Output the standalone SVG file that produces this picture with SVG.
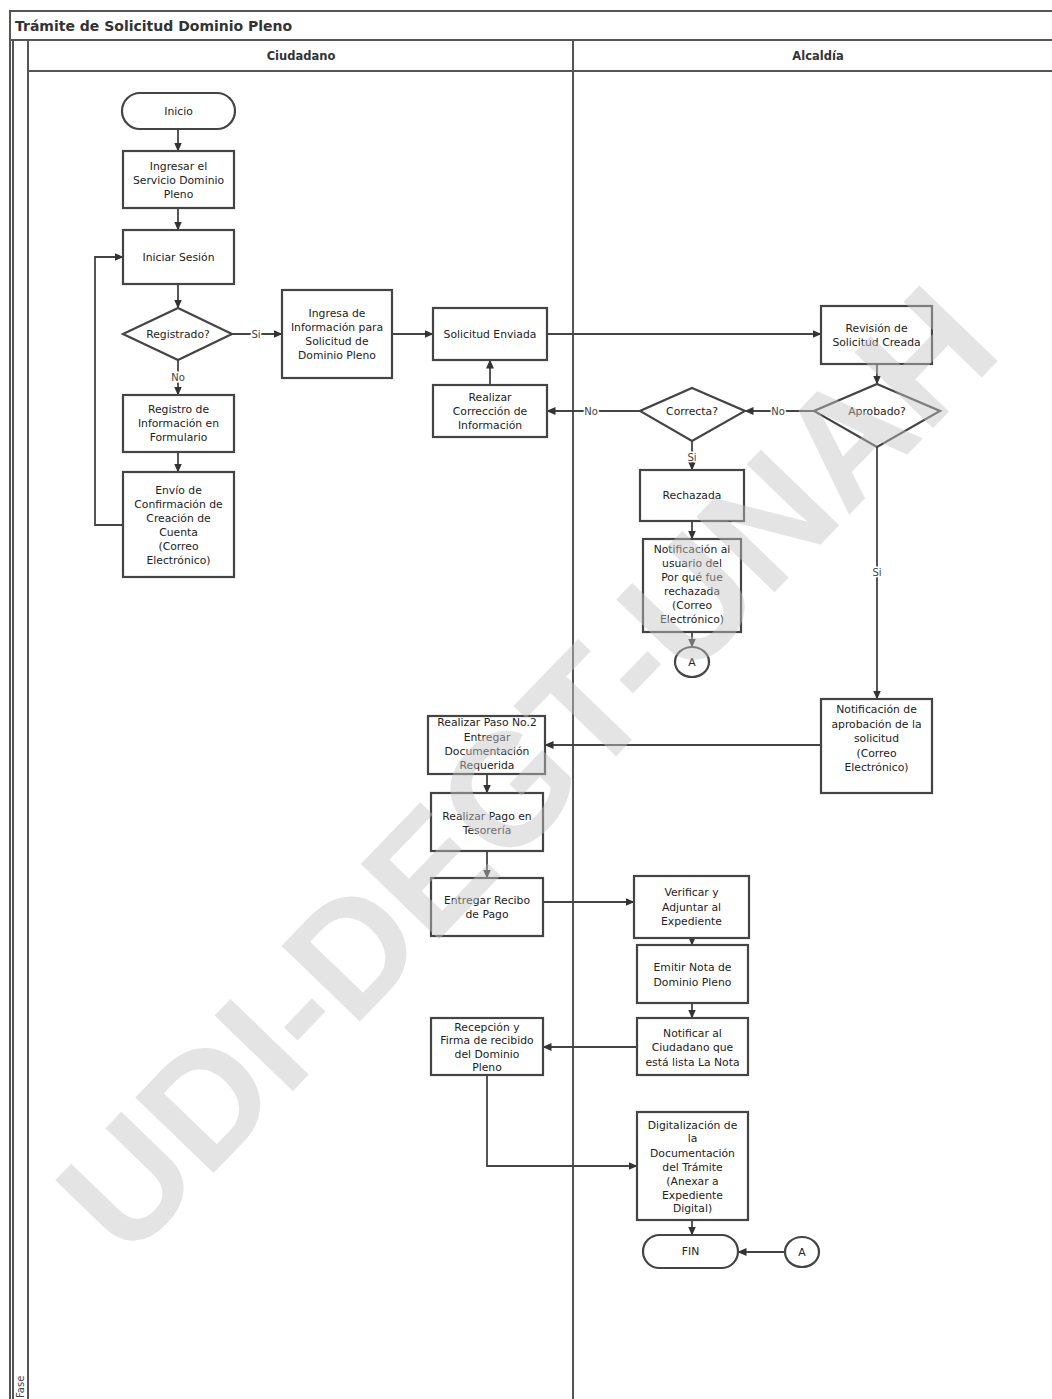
<svg xmlns="http://www.w3.org/2000/svg" width="1052" height="1399" viewBox="0 0 1052 1399">
<style>
.frame{fill:none;stroke:#555;stroke-width:2}
.box{fill:#fff;stroke:#444;stroke-width:2.2}
.ln{fill:none;stroke:#444;stroke-width:1.8}
.t{font-family:"DejaVu Sans","Liberation Sans",sans-serif;font-size:10.8px;fill:#222;text-anchor:middle}
.lb{font-family:"DejaVu Sans","Liberation Sans",sans-serif;font-size:10px;fill:#444;text-anchor:middle;stroke:#fff;stroke-width:3px;paint-order:stroke}
.hd{font-family:"DejaVu Sans","Liberation Sans",sans-serif;font-size:11.5px;font-weight:bold;fill:#333;text-anchor:middle}
</style>
<defs>
<marker id="ah" markerWidth="9" markerHeight="8" refX="8.5" refY="4" orient="auto" markerUnits="userSpaceOnUse">
<path d="M0,0 L9,4 L0,8 Z" fill="#333"/>
</marker>
</defs>
<rect width="1052" height="1399" fill="#fff"/>
<g id="pool">
<rect class="frame" x="10" y="11" width="1060" height="1400"/>
<line class="frame" x1="10" y1="40" x2="1052" y2="40"/>
<line class="frame" x1="13" y1="40" x2="13" y2="1399" stroke-width="1"/>
<line class="frame" x1="28" y1="40" x2="28" y2="1399"/>
<line class="frame" x1="28" y1="71" x2="1052" y2="71"/>
<line class="frame" x1="573" y1="40" x2="573" y2="1399"/>
<text x="15" y="31" font-family="DejaVu Sans, Liberation Sans, sans-serif" font-size="14px" font-weight="bold" fill="#333">Trámite de Solicitud Dominio Pleno</text>
<text class="hd" x="301" y="60">Ciudadano</text>
<text class="hd" x="818" y="60">Alcaldía</text>
<text transform="translate(24,1398) rotate(-90)" font-family="DejaVu Sans, sans-serif" font-size="10px" fill="#444">Fase</text>
</g>
<g id="connectors">
<path class="ln" d="M178,129 V151" marker-end="url(#ah)"/>
<path class="ln" d="M178,208 V230" marker-end="url(#ah)"/>
<path class="ln" d="M178,284 V308" marker-end="url(#ah)"/>
<path class="ln" d="M178,360 V395" marker-end="url(#ah)"/>
<path class="ln" d="M178,452 V472" marker-end="url(#ah)"/>
<path class="ln" d="M123,525 H95 V257 H123" marker-end="url(#ah)"/>
<path class="ln" d="M232,334 H282" marker-end="url(#ah)"/>
<path class="ln" d="M392,334 H433" marker-end="url(#ah)"/>
<path class="ln" d="M490,385 V360" marker-end="url(#ah)"/>
<path class="ln" d="M547,334 H821" marker-end="url(#ah)"/>
<path class="ln" d="M877,364 V384" marker-end="url(#ah)"/>
<path class="ln" d="M814,411 H745" marker-end="url(#ah)"/>
<path class="ln" d="M640,411 H547" marker-end="url(#ah)"/>
<path class="ln" d="M692,441 V470" marker-end="url(#ah)"/>
<path class="ln" d="M692,521 V539" marker-end="url(#ah)"/>
<path class="ln" d="M692,632 V647" marker-end="url(#ah)"/>
<path class="ln" d="M877,447 V699" marker-end="url(#ah)"/>
<path class="ln" d="M821,745 H545" marker-end="url(#ah)"/>
<path class="ln" d="M487,774 V793" marker-end="url(#ah)"/>
<path class="ln" d="M487,851 V878" marker-end="url(#ah)"/>
<path class="ln" d="M543,902 H634" marker-end="url(#ah)"/>
<path class="ln" d="M692,938 V945" marker-end="url(#ah)"/>
<path class="ln" d="M692,1003 V1018" marker-end="url(#ah)"/>
<path class="ln" d="M637,1047 H543" marker-end="url(#ah)"/>
<path class="ln" d="M487,1075 V1166 H637" marker-end="url(#ah)"/>
<path class="ln" d="M692,1220 V1235" marker-end="url(#ah)"/>
<path class="ln" d="M785,1252 H738" marker-end="url(#ah)"/>
<text class="lb" x="178" y="381">No</text>
<text class="lb" x="256" y="338">Si</text>
<text class="lb" x="778" y="415">No</text>
<text class="lb" x="591" y="415">No</text>
<text class="lb" x="692" y="461">Si</text>
<text class="lb" x="877" y="576">Si</text>
</g>
<g id="inicio"><rect class="box" x="122" y="93" width="113" height="36" rx="18"/><text class="t" x="178.5" y="115">Inicio</text></g>
<g id="ingresar"><rect class="box" x="123" y="151" width="111" height="57"/><text class="t" x="178.5" y="170">Ingresar el</text><text class="t" x="178.5" y="184">Servicio Dominio</text><text class="t" x="178.5" y="198">Pleno</text></g>
<g id="iniciar"><rect class="box" x="123" y="230" width="111" height="54"/><text class="t" x="178.5" y="261">Iniciar Sesión</text></g>
<g id="registrado"><polygon class="box" points="178,308 232,334 178,360 123,334"/><text class="t" x="178" y="338">Registrado?</text></g>
<g id="registro"><rect class="box" x="123" y="395" width="111" height="57"/><text class="t" x="178.5" y="413">Registro de</text><text class="t" x="178.5" y="427">Información en</text><text class="t" x="178.5" y="441">Formulario</text></g>
<g id="envio"><rect class="box" x="123" y="472" width="111" height="105"/><text class="t" x="178.5" y="494">Envío de</text><text class="t" x="178.5" y="508">Confirmación de</text><text class="t" x="178.5" y="522">Creación de</text><text class="t" x="178.5" y="536">Cuenta</text><text class="t" x="178.5" y="550">(Correo</text><text class="t" x="178.5" y="564">Electrónico)</text></g>
<g id="ingresa"><rect class="box" x="282" y="290" width="110" height="88"/><text class="t" x="337" y="317">Ingresa de</text><text class="t" x="337" y="331">Información para</text><text class="t" x="337" y="345">Solicitud de</text><text class="t" x="337" y="359">Dominio Pleno</text></g>
<g id="enviada"><rect class="box" x="433" y="308" width="114" height="52"/><text class="t" x="490" y="338">Solicitud Enviada</text></g>
<g id="correccion"><rect class="box" x="433" y="385" width="114" height="52"/><text class="t" x="490" y="401">Realizar</text><text class="t" x="490" y="415">Corrección de</text><text class="t" x="490" y="429">Información</text></g>
<g id="revision"><rect class="box" x="821" y="306" width="111" height="58"/><text class="t" x="876.5" y="332">Revisión de</text><text class="t" x="876.5" y="346">Solicitud Creada</text></g>
<g id="aprobado"><polygon class="box" points="877,384 940,411 877,447 814,411"/><text class="t" x="877" y="415">Aprobado?</text></g>
<g id="correcta"><polygon class="box" points="692,388 745,411 692,441 640,411"/><text class="t" x="692" y="415">Correcta?</text></g>
<g id="rechazada"><rect class="box" x="640" y="470" width="104" height="51"/><text class="t" x="692" y="499">Rechazada</text></g>
<g id="notif-rechazo"><rect class="box" x="643" y="539" width="98" height="93"/><text class="t" x="692" y="553">Notificación al</text><text class="t" x="692" y="567">usuario del</text><text class="t" x="692" y="581">Por qué fue</text><text class="t" x="692" y="595">rechazada</text><text class="t" x="692" y="609">(Correo</text><text class="t" x="692" y="623">Electrónico)</text></g>
<g id="conector-a1"><ellipse class="box" cx="692" cy="662" rx="17" ry="15"/><text class="t" x="692" y="666">A</text></g>
<g id="notif-aprobacion"><rect class="box" x="821" y="699" width="111" height="94"/><text class="t" x="876.5" y="713">Notificación de</text><text class="t" x="876.5" y="727.5">aprobación de la</text><text class="t" x="876.5" y="742">solicitud</text><text class="t" x="876.5" y="756.5">(Correo</text><text class="t" x="876.5" y="771">Electrónico)</text></g>
<g id="paso2"><rect class="box" x="428" y="716" width="117" height="58"/><text class="t" x="487" y="726">Realizar Paso No.2</text><text class="t" x="487" y="741">Entregar</text><text class="t" x="487" y="755">Documentación</text><text class="t" x="487" y="769">Requerida</text></g>
<g id="pago"><rect class="box" x="431" y="793" width="112" height="58"/><text class="t" x="487" y="820">Realizar Pago en</text><text class="t" x="487" y="834">Tesorería</text></g>
<g id="recibo"><rect class="box" x="431" y="878" width="112" height="58"/><text class="t" x="487" y="904">Entregar Recibo</text><text class="t" x="487" y="918">de Pago</text></g>
<g id="verificar"><rect class="box" x="634" y="876" width="115" height="62"/><text class="t" x="691.5" y="896">Verificar y</text><text class="t" x="691.5" y="911">Adjuntar al</text><text class="t" x="691.5" y="925">Expediente</text></g>
<g id="emitir"><rect class="box" x="637" y="945" width="111" height="58"/><text class="t" x="692.5" y="971">Emitir Nota de</text><text class="t" x="692.5" y="986">Dominio Pleno</text></g>
<g id="notificar"><rect class="box" x="637" y="1018" width="111" height="57"/><text class="t" x="692.5" y="1037">Notificar al</text><text class="t" x="692.5" y="1051">Ciudadano que</text><text class="t" x="692.5" y="1066">está lista La Nota</text></g>
<g id="recepcion"><rect class="box" x="431" y="1018" width="112" height="57"/><text class="t" x="487" y="1031">Recepción y</text><text class="t" x="487" y="1044">Firma de recibido</text><text class="t" x="487" y="1058">del Dominio</text><text class="t" x="487" y="1071">Pleno</text></g>
<g id="digitalizacion"><rect class="box" x="637" y="1112" width="111" height="108"/><text class="t" x="692.5" y="1129">Digitalización de</text><text class="t" x="692.5" y="1142">la</text><text class="t" x="692.5" y="1157">Documentación</text><text class="t" x="692.5" y="1171">del Trámite</text><text class="t" x="692.5" y="1185">(Anexar a</text><text class="t" x="692.5" y="1199">Expediente</text><text class="t" x="692.5" y="1212">Digital)</text></g>
<g id="fin"><rect class="box" x="643" y="1235" width="95" height="33" rx="16.5"/><text class="t" x="690.5" y="1255">FIN</text></g>
<g id="conector-a2"><ellipse class="box" cx="802" cy="1252" rx="17" ry="15"/><text class="t" x="802" y="1256">A</text></g>
<g id="watermark" opacity="0.45">
<text transform="translate(566,808) rotate(-46)" text-anchor="middle" font-family="Liberation Sans, Arial, sans-serif" font-size="158px" font-weight="bold" fill="#c4c4c4">UDI-DEGT-UNAH</text>
</g>
</svg>
